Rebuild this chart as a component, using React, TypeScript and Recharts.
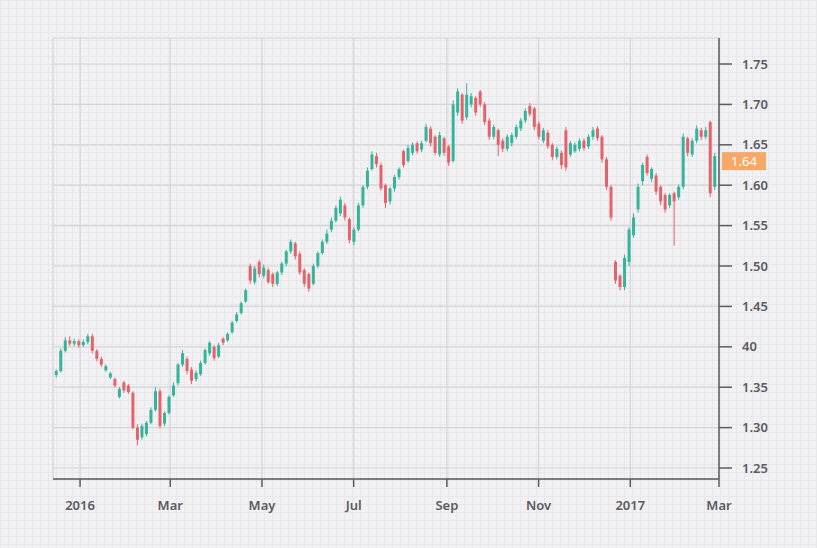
import React from "react";
import {
  Bar,
  CartesianGrid,
  ComposedChart,
  ReferenceLine,
  XAxis,
  YAxis,
} from "recharts";

// candles every 3 calendar days, day 0 = 2016-01-01
const FIRST_DAY = -16;
const STEP_DAYS = 3;

const opens = [
  1.365, 1.37, 1.395, 1.408, 1.404, 1.407, 1.402, 1.406, 1.413, 1.395,
  1.385, 1.371, 1.362, 1.36, 1.338, 1.356, 1.352, 1.343, 1.3, 1.288,
  1.292, 1.306, 1.322, 1.345, 1.305, 1.318, 1.34, 1.355, 1.378, 1.385,
  1.372, 1.36, 1.366, 1.38, 1.392, 1.4, 1.388, 1.41, 1.408, 1.418,
  1.432, 1.442, 1.456, 1.5, 1.48, 1.505, 1.488, 1.495, 1.49, 1.478,
  1.492, 1.503, 1.518, 1.528, 1.515, 1.495, 1.49, 1.478, 1.5, 1.516,
  1.53, 1.545, 1.556, 1.565, 1.575, 1.558, 1.53, 1.545, 1.575, 1.598,
  1.62, 1.636, 1.625, 1.6, 1.58, 1.596, 1.61, 1.642, 1.63, 1.64,
  1.652, 1.644, 1.655, 1.67, 1.66, 1.638, 1.658, 1.648, 1.63, 1.69,
  1.712, 1.684, 1.7, 1.708, 1.716, 1.7, 1.68, 1.66, 1.668, 1.655,
  1.645, 1.652, 1.66, 1.67, 1.68, 1.698, 1.695, 1.676, 1.655, 1.665,
  1.65, 1.635, 1.64, 1.668, 1.638, 1.642, 1.645, 1.655, 1.648, 1.66,
  1.67, 1.66, 1.632, 1.598, 1.505, 1.488, 1.474, 1.505, 1.538, 1.57,
  1.605, 1.635, 1.608, 1.612, 1.598, 1.588, 1.575, 1.59, 1.585, 1.598,
  1.658, 1.638, 1.655, 1.668, 1.66, 1.678, 1.598,
];

const highs = [
  1.372, 1.398, 1.412, 1.413, 1.41, 1.409, 1.409, 1.416, 1.416, 1.397,
  1.388, 1.378, 1.369, 1.362, 1.35, 1.358, 1.354, 1.345, 1.304, 1.305,
  1.308, 1.325, 1.35, 1.348, 1.32, 1.34, 1.356, 1.38, 1.396, 1.388,
  1.375, 1.371, 1.383, 1.398, 1.407, 1.402, 1.405, 1.412, 1.418, 1.432,
  1.443, 1.456, 1.472, 1.503, 1.5, 1.508, 1.502, 1.498, 1.492, 1.494,
  1.505, 1.52, 1.533, 1.53, 1.518, 1.497, 1.492, 1.503, 1.518, 1.533,
  1.545, 1.56, 1.575, 1.586, 1.578, 1.56, 1.548, 1.578, 1.6, 1.622,
  1.642, 1.64, 1.628, 1.602, 1.598, 1.613, 1.622, 1.644, 1.65, 1.653,
  1.654, 1.655, 1.676, 1.673, 1.662, 1.666, 1.66, 1.65, 1.705, 1.72,
  1.714, 1.726, 1.714, 1.71, 1.718, 1.703, 1.683, 1.675, 1.67, 1.658,
  1.663, 1.665, 1.675, 1.683, 1.695, 1.702, 1.697, 1.679, 1.671, 1.668,
  1.652, 1.648, 1.643, 1.672, 1.655, 1.653, 1.658, 1.658, 1.663, 1.672,
  1.673, 1.662, 1.635, 1.6, 1.507, 1.49, 1.514, 1.548, 1.565, 1.602,
  1.628, 1.638, 1.622, 1.615, 1.6, 1.59, 1.59, 1.592, 1.601, 1.664,
  1.66, 1.658, 1.674, 1.671, 1.672, 1.68, 1.64,
];

const lows = [
  1.362, 1.368, 1.393, 1.401, 1.401, 1.399, 1.4, 1.403, 1.392, 1.382,
  1.375, 1.369, 1.36, 1.35, 1.336, 1.343, 1.342, 1.298, 1.278, 1.285,
  1.289, 1.304, 1.32, 1.299, 1.302, 1.316, 1.338, 1.352, 1.375, 1.366,
  1.354, 1.357, 1.364, 1.378, 1.389, 1.383, 1.386, 1.402, 1.406, 1.416,
  1.43, 1.44, 1.454, 1.478, 1.477, 1.486, 1.485, 1.478, 1.474, 1.475,
  1.489, 1.5, 1.515, 1.508, 1.489, 1.474, 1.468, 1.476, 1.497, 1.514,
  1.527, 1.542, 1.554, 1.562, 1.556, 1.528, 1.526, 1.543, 1.572, 1.595,
  1.618, 1.622, 1.593, 1.572, 1.576, 1.592, 1.607, 1.622, 1.628, 1.637,
  1.639, 1.641, 1.653, 1.648, 1.637, 1.635, 1.636, 1.624, 1.628, 1.686,
  1.676, 1.681, 1.696, 1.686, 1.697, 1.674, 1.656, 1.657, 1.636, 1.641,
  1.642, 1.648, 1.657, 1.667, 1.677, 1.685, 1.668, 1.657, 1.652, 1.645,
  1.631, 1.632, 1.62, 1.618, 1.635, 1.64, 1.642, 1.643, 1.645, 1.656,
  1.655, 1.628, 1.594, 1.556, 1.478, 1.47, 1.47, 1.5, 1.535, 1.566,
  1.6, 1.612, 1.604, 1.588, 1.575, 1.566, 1.572, 1.525, 1.582, 1.595,
  1.636, 1.635, 1.652, 1.656, 1.657, 1.585, 1.594,
];

const closes = [
  1.37, 1.395, 1.408, 1.404, 1.407, 1.402, 1.406, 1.413, 1.395, 1.385,
  1.378, 1.376, 1.367, 1.352, 1.348, 1.346, 1.344, 1.3, 1.285, 1.302,
  1.306, 1.322, 1.345, 1.302, 1.318, 1.338, 1.352, 1.378, 1.392, 1.37,
  1.358, 1.368, 1.38, 1.396, 1.405, 1.386, 1.402, 1.405, 1.416, 1.43,
  1.44, 1.454, 1.47, 1.482, 1.497, 1.49, 1.498, 1.48, 1.478, 1.492,
  1.503, 1.518, 1.53, 1.512, 1.492, 1.478, 1.472, 1.5, 1.516, 1.53,
  1.54, 1.556, 1.572, 1.582, 1.56, 1.532, 1.545, 1.575, 1.598, 1.618,
  1.638, 1.626, 1.596, 1.578, 1.596, 1.61, 1.62, 1.625, 1.646, 1.65,
  1.642, 1.652, 1.672, 1.652, 1.64, 1.662, 1.64, 1.628, 1.7, 1.716,
  1.68, 1.712, 1.71, 1.69, 1.7, 1.678, 1.66, 1.672, 1.65, 1.645,
  1.66, 1.662, 1.672, 1.68, 1.692, 1.688, 1.672, 1.66, 1.668, 1.648,
  1.635, 1.645, 1.625, 1.622, 1.652, 1.65, 1.655, 1.646, 1.66, 1.668,
  1.658, 1.632, 1.598, 1.56, 1.482, 1.474, 1.51, 1.545, 1.56, 1.598,
  1.625, 1.615, 1.62, 1.592, 1.58, 1.57, 1.588, 1.58, 1.598, 1.66,
  1.64, 1.655, 1.67, 1.66, 1.668, 1.59, 1.636,
];

const monthTicks = [0, 60, 121, 182, 244, 305, 366, 425];
const monthLabels = ["2016", "Mar", "May", "Jul", "Sep", "Nov", "2017", "Mar"];

const priceTicks = [1.25, 1.3, 1.35, 1.4, 1.45, 1.5, 1.55, 1.6, 1.65, 1.7, 1.75];
const priceLabels = ["1.25", "1.30", "1.35", "40", "1.45", "1.50", "1.55", "1.60", "1.65", "1.70", "1.75"];

const UP = "#36b39b";
const DOWN = "#e3636b";
const AXIS = "#5a5a60";

const data = closes.map((close, i) => ({
  day: FIRST_DAY + i * STEP_DAYS,
  open: opens[i],
  high: highs[i],
  low: lows[i],
  close,
  range: [lows[i], highs[i]],
}));

const lastClose = closes[closes.length - 1];

function Candle(props: any) {
  const { x, y, width, height, payload } = props;
  if (!payload) return null;
  const { open, close, high, low } = payload;
  const top = Math.min(y, y + height);
  const h = Math.abs(height);
  const k = high === low ? 0 : h / (high - low);
  const yOpen = top + (high - open) * k;
  const yClose = top + (high - close) * k;
  const color = close >= open ? UP : DOWN;
  const cx = x + width / 2;
  return (
    <g>
      <line x1={cx} x2={cx} y1={top} y2={top + h} stroke={color} strokeWidth={1} />
      <rect
        x={x}
        y={Math.min(yOpen, yClose)}
        width={width}
        height={Math.max(1, Math.abs(yClose - yOpen))}
        fill={color}
      />
    </g>
  );
}

// orange last-price tag, sits just under the 1.65 tick like the original
function PriceTag(props: any) {
  const vb = props.viewBox;
  if (!vb) return null;
  const left = vb.x + vb.width + 3;
  const top = vb.y - 4;
  return (
    <g>
      <rect x={left} y={top} width={44} height={18} fill="#f6a865" />
      <text
        x={left + 22}
        y={top + 14}
        textAnchor="middle"
        fill="#fff"
        fontSize={13}
        fontFamily="Noto Sans, sans-serif"
      >
        {lastClose.toFixed(2)}
      </text>
    </g>
  );
}

const tickStyle = {
  fontSize: 13,
  fill: AXIS,
  fontWeight: 600,
  fontFamily: "Noto Sans, sans-serif",
};

export default function App() {
  return (
    <div
      style={{
        position: "absolute",
        left: 0,
        top: 0,
        width: 817,
        height: 548,
        backgroundColor: "#f1f1f3",
        backgroundImage:
          "linear-gradient(#e8e8ec 1px, transparent 1px), linear-gradient(90deg, #e8e8ec 1px, transparent 1px)",
        backgroundSize: "8px 8px",
      }}
    >
      <ComposedChart
        width={817}
        height={548}
        data={data}
        margin={{ top: 38, right: 8, bottom: 29, left: 53 }}
      >
        <CartesianGrid stroke="#d4d4d9" strokeWidth={1.2} />
        <XAxis
          dataKey="day"
          type="number"
          scale="linear"
          domain={[-18, 425]}
          allowDataOverflow
          ticks={monthTicks}
          tickFormatter={(v) => monthLabels[monthTicks.indexOf(v)] ?? ""}
          interval={0}
          height={40}
          tickSize={8}
          tickMargin={14}
          axisLine={{ stroke: AXIS, strokeWidth: 1.5 }}
          tickLine={{ stroke: AXIS, strokeWidth: 1.5 }}
          tick={tickStyle}
        />
        <YAxis
          orientation="right"
          type="number"
          domain={[1.2364, 1.7822]}
          allowDataOverflow
          ticks={priceTicks}
          tickFormatter={(v) => priceLabels[priceTicks.findIndex((t) => Math.abs(t - v) < 1e-6)] ?? ""}
          interval={0}
          width={90}
          tickSize={13}
          tickMargin={10}
          axisLine={{ stroke: AXIS, strokeWidth: 1.5 }}
          tickLine={{ stroke: AXIS, strokeWidth: 1.5 }}
          tick={tickStyle}
        />
        <Bar
          dataKey="range"
          barSize={3}
          shape={<Candle />}
          isAnimationActive={false}
        />
        <ReferenceLine y={lastClose} stroke="none" label={<PriceTag />} />
      </ComposedChart>
    </div>
  );
}
